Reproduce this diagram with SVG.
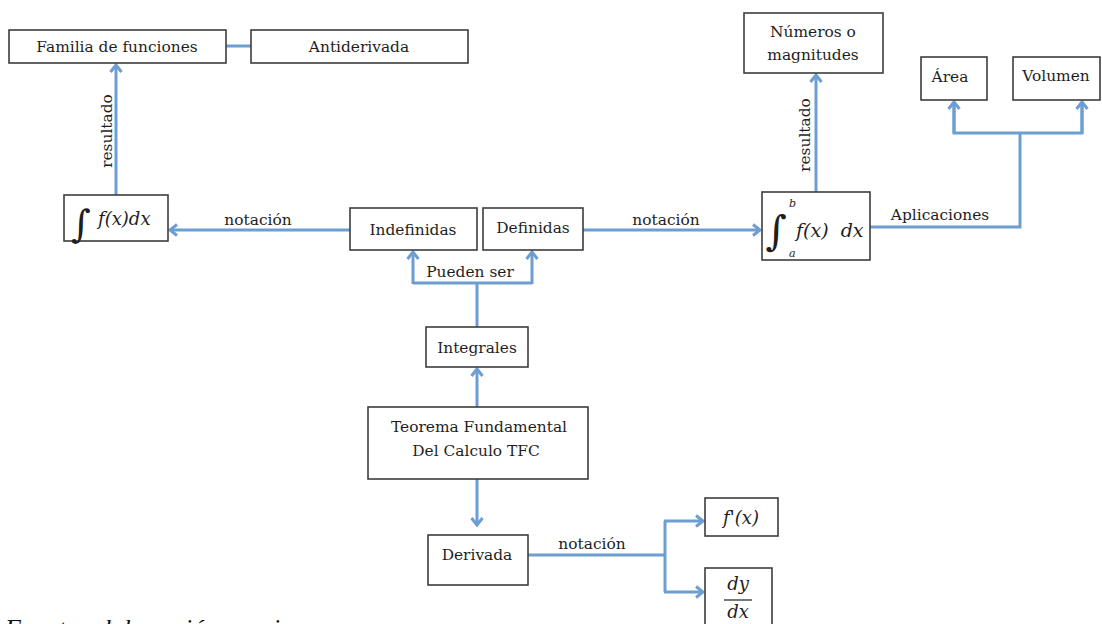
<svg xmlns="http://www.w3.org/2000/svg" width="1102" height="624" viewBox="0 0 1102 624">
<defs>
<style>
.box{fill:#ffffff;stroke:#3d3d3d;stroke-width:1.6}
.t{font-family:"DejaVu Serif","Liberation Serif",serif;font-size:15.4px;fill:#1e1e1e;text-anchor:middle}
.lbl{font-family:"DejaVu Serif","Liberation Serif",serif;font-size:15.4px;fill:#1e1e1e}
.m{font-family:"DejaVu Serif","Liberation Serif",serif;font-style:italic;font-size:18px;fill:#1e1e1e}
.c{fill:none;stroke:#6d9ed2;stroke-width:3}
.cap{font-family:"Liberation Serif",serif;font-style:italic;font-size:26px;fill:#111}
</style>
<marker id="ah" viewBox="0 0 14 14" refX="11" refY="7" markerWidth="14" markerHeight="14" markerUnits="userSpaceOnUse" orient="auto">
<path d="M4,1.5 L11,7 L4,12.5" fill="none" stroke="#6d9ed2" stroke-width="3"/>
</marker>
</defs>
<rect width="1102" height="624" fill="#ffffff"/>

<g id="connectors">
<line class="c" x1="226" y1="46" x2="251" y2="46"/>
<line class="c" x1="116" y1="195" x2="116" y2="65" marker-end="url(#ah)"/>
<line class="c" x1="350" y1="230" x2="170" y2="230" marker-end="url(#ah)"/>
<line class="c" x1="583" y1="230" x2="760" y2="230" marker-end="url(#ah)"/>
<line class="c" x1="816" y1="192" x2="816" y2="75" marker-end="url(#ah)"/>
<polyline class="c" points="870,227 1020,227 1020,133"/>
<polyline class="c" points="954,102 954,133 1082,133 1082,102"/>
<line class="c" x1="954" y1="133" x2="954" y2="102" marker-end="url(#ah)"/>
<line class="c" x1="1082" y1="133" x2="1082" y2="102" marker-end="url(#ah)"/>
<polyline class="c" points="413,283 532,283"/>
<line class="c" x1="413" y1="284" x2="413" y2="252" marker-end="url(#ah)"/>
<line class="c" x1="532" y1="284" x2="532" y2="252" marker-end="url(#ah)"/>
<line class="c" x1="477" y1="283" x2="477" y2="327"/>
<line class="c" x1="477" y1="407" x2="477" y2="369" marker-end="url(#ah)"/>
<line class="c" x1="477" y1="479" x2="477" y2="525" marker-end="url(#ah)"/>
<polyline class="c" points="528,555 665,555"/>
<polyline class="c" points="665,521 665,592"/>
<line class="c" x1="664" y1="521" x2="703" y2="521" marker-end="url(#ah)"/>
<line class="c" x1="664" y1="592" x2="703" y2="592" marker-end="url(#ah)"/>
<text class="lbl" transform="translate(112,131) rotate(-90)" text-anchor="middle">resultado</text>
<text class="lbl" transform="translate(810,135) rotate(-90)" text-anchor="middle">resultado</text>
<text class="lbl" x="258" y="225" text-anchor="middle">notación</text>
<text class="lbl" x="666" y="225" text-anchor="middle">notación</text>
<text class="lbl" x="940" y="220" text-anchor="middle">Aplicaciones</text>
<text class="lbl" x="470" y="277" text-anchor="middle">Pueden ser</text>
<text class="lbl" x="592" y="549" text-anchor="middle">notación</text>
</g>

<g id="familia"><rect class="box" x="9" y="30" width="217" height="33"/><text class="t" x="117" y="52">Familia de funciones</text></g>
<g id="antiderivada"><rect class="box" x="251" y="30" width="217" height="33"/><text class="t" x="359" y="52">Antiderivada</text></g>
<g id="indef-notacion"><rect class="box" x="64" y="195" width="104" height="46"/>
<text x="81" y="237" style="font-family:'DejaVu Serif',serif;font-size:38px;fill:#1e1e1e" text-anchor="middle">∫</text>
<text class="m" x="98" y="225">f(x)dx</text></g>
<g id="indefinidas"><rect class="box" x="350" y="208" width="127" height="42"/><text class="t" x="413" y="235">Indefinidas</text></g>
<g id="definidas"><rect class="box" x="483" y="208" width="100" height="42"/><text class="t" x="533" y="233">Definidas</text></g>
<g id="def-notacion"><rect class="box" x="762" y="192" width="108" height="68"/>
<text x="776" y="245" style="font-family:'DejaVu Serif',serif;font-size:41px;fill:#1e1e1e" text-anchor="middle">∫</text>
<text class="m" x="789" y="207" style="font-size:11px">b</text>
<text class="m" x="789" y="257" style="font-size:11px">a</text>
<text class="m" x="796" y="237" style="font-size:19px" xml:space="preserve">f(x)  dx</text></g>
<g id="numeros"><rect class="box" x="744" y="13" width="139" height="60"/><text class="t" x="813" y="37">Números o</text><text class="t" x="813" y="60">magnitudes</text></g>
<g id="area"><rect class="box" x="921" y="57" width="66" height="43"/><text class="t" x="950" y="82">Área</text></g>
<g id="volumen"><rect class="box" x="1013" y="57" width="87" height="43"/><text class="t" x="1056" y="81">Volumen</text></g>
<g id="integrales"><rect class="box" x="426" y="327" width="102" height="40"/><text class="t" x="477" y="353">Integrales</text></g>
<g id="tfc"><rect class="box" x="368" y="407" width="220" height="72"/><text class="t" x="479" y="432">Teorema Fundamental</text><text class="t" x="476" y="456">Del Calculo TFC</text></g>
<g id="derivada"><rect class="box" x="428" y="535" width="100" height="50"/><text class="t" x="477" y="560">Derivada</text></g>
<g id="fprima"><rect class="box" x="705" y="498" width="73" height="38"/><text class="m" x="741" y="524" text-anchor="middle">f'(x)</text></g>
<g id="dydx"><rect class="box" x="705" y="568" width="67" height="70"/>
<text class="m" x="738" y="590" text-anchor="middle">dy</text>
<line x1="724" y1="600" x2="752" y2="600" stroke="#1e1e1e" stroke-width="1.2"/>
<text class="m" x="738" y="618" text-anchor="middle">dx</text></g>

<text class="cap" x="5" y="637">Fuente: elaboración propia</text>
</svg>
